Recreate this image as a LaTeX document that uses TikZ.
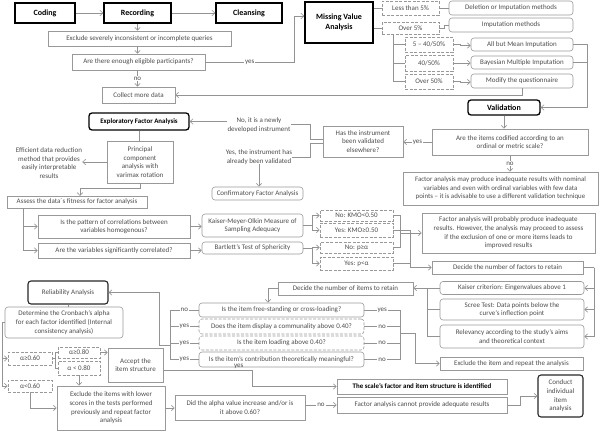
\documentclass[tikz,border=0pt]{standalone}
\usepackage{fontspec}
\setmainfont{Carlito}
\usetikzlibrary{arrows.meta}
\newcommand\mybox[7]{\node[#2,minimum width={#5-#3},minimum height={#6-#4}] (#1) at ({(#3+#5)/2},{(#4+#6)/2}) {#7};}
\begin{document}
\begin{tikzpicture}[x=1pt,y=-1pt,
  base/.style={inner sep=0pt, align=center, text=black!70, font=\fontsize{7}{8.6}\selectfont},
  gbox/.style={base, draw=gray!80, line width=0.6pt},
  rbox/.style={gbox, rounded corners=3pt},
  dbox/.style={gbox, dash pattern=on 3pt off 1.5pt},
  drbox/.style={dbox, rounded corners=3pt},
  kbox/.style={base, draw=black, line width=1.3pt, text=black, font=\bfseries\fontsize{8}{10}\selectfont},
  krbox/.style={kbox, rounded corners=3pt},
  relbox/.style={rbox, draw=black!85, line width=1.1pt},
  boldg/.style={gbox, text=black, font=\bfseries\fontsize{6.9}{8.5}\selectfont},
  lab/.style={base, fill=white, inner sep=1pt},
  txt/.style={base},
  ln/.style={draw=gray!85, line width=0.6pt},
  arr/.style={ln, -{Straight Barb[length=3pt,width=5.5pt]}},
]
\useasboundingbox (0,0) rectangle (600,431);
% top row
\mybox{coding}{kbox}{15}{3}{75}{23}{Coding}
\mybox{recording}{kbox}{104}{3}{171}{23}{Recording}
\mybox{cleansing}{kbox}{216}{3}{282}{23}{Cleansing}
\mybox{excl}{gbox}{48}{31}{231}{46}{Exclude severely inconsistent or incomplete queries}
\mybox{enough}{gbox}{72}{54}{205}{70}{Are there enough eligible participants?}
\mybox{collect}{gbox}{102}{87}{175}{103}{Collect more data}
\mybox{mva}{kbox}{305}{2}{373}{43}{Missing Value\\Analysis}
\mybox{lt5}{dbox}{382}{1}{439}{15}{Less than 5\%}
\mybox{ov5}{dbox}{382}{22}{439}{34}{Over 5\%}
\mybox{delimp}{rbox}{449}{1}{573}{15}{Deletion or Imputation methods}
\mybox{imp}{rbox}{449}{18}{573}{32}{Imputation methods}
\mybox{r1}{dbox}{405}{37}{453}{52}{5 – 40/50\%}
\mybox{r2}{dbox}{405}{55}{453}{71}{40/50\%}
\mybox{r3}{dbox}{405}{74}{453}{89}{Over 50\%}
\mybox{abmi}{rbox}{471}{38}{573}{51}{All but Mean Imputation}
\mybox{bmi}{rbox}{471}{56}{573}{69}{Bayesian Multiple Imputation}
\mybox{modq}{rbox}{471}{74}{573}{88}{Modify the questionnaire}
\mybox{valid}{krbox}{468}{100}{540}{115}{Validation}

\draw[arr] (coding) -- (recording);
\draw[arr] (recording) -- (cleansing);
\draw[arr] (recording.south) -- (recording.south |- excl.north);
\draw[arr] (excl.south -| recording.south) -- (recording.south |- enough.north);
\draw[arr] (enough.south -| recording.south) -- node[lab]{no} (recording.south |- collect.north);
\coordinate (c1) at (294,62);
\draw[arr] (enough.east) -- node[lab]{yes} (c1) |- ([yshift=6.5pt]mva.west);
\draw[ln] (mva.east |- lt5.west) -- (lt5.west);
\draw[ln] (mva.east |- ov5.west) -- (ov5.west);
\draw[ln] (lt5.east) -- (delimp.west);
\draw[ln] (ov5.east) -- ++(5,0) |- (imp.west);
\coordinate (v1) at (393,34);
\draw[ln] (v1) |- (r1.west);
\draw[ln] (v1) |- (r2.west);
\draw[ln] (v1) |- (r3.west);
\draw[arr] (r1.east) -- ++(7,0) |- ([yshift=-1pt]abmi.west);
\draw[arr] (r2.east) -- (r2.east -| bmi.west);
\draw[arr] (r3.east) -- ++(7,0) |- ([yshift=-1pt]modq.west);
\coordinate (v2) at (587,107.5);
\draw[ln] (abmi.east) -| (v2);
\draw[ln] (bmi.east) -| (v2);
\draw[arr] (v2) -- (valid.east);
\draw[arr] (modq.south) |- (collect.east);

% middle
\mybox{efa}{krbox, font=\bfseries\fontsize{6.9}{8}\selectfont}{89}{113}{189}{130}{Exploratory Factor Analysis}
\mybox{pca}{gbox}{107}{141}{173}{183}{Principal\\component\\analysis with\\varimax rotation}
\node[txt] (eff) at (49,163) {Efficient data reduction\\method that provides\\easily interpretable\\results};
\mybox{assess}{gbox}{7}{196}{147}{208}{Assess the data´s fitness for factor analysis}
\node[txt] (nolab) at (259,125) {No, it is a newly\\developed instrument};
\node[txt] (yeslab) at (259,157) {Yes, the instrument has\\already been validated};
\mybox{has}{gbox}{323}{126}{403}{157}{Has the instrument\\been validated\\elsewhere?}
\mybox{cfa}{rbox}{212}{187}{303}{200}{Confirmatory Factor Analysis}
\mybox{items}{gbox}{432}{129}{588}{155}{Are the items codified according to an\\ordinal or metric scale?}
\mybox{fa1}{gbox, font=\fontsize{6.9}{8.6}\selectfont}{403}{172}{598}{205}{Factor analysis may produce inadequate results with nominal\\variables and even with ordinal variables with few data\\points – it is advisable to use a different validation technique}

\draw[arr] (efa.east -| nolab.west) -- (efa.east);
\draw[ln] (efa.south) -- (efa.south |- pca.north);
\draw[arr] (pca.west) -- (pca.west -| eff.east);
\coordinate (c2) at (80,196);
\draw[arr] (pca.south) -- ++(0,5) -| (c2);
\coordinate (b1) at (310,124);
\coordinate (b2) at (310,157);
\draw[ln] (nolab.east |- b1) -- (b1) |- ([yshift=2pt]has.west);
\draw[ln] (yeslab.east) -- (b2) |- ([yshift=-2pt]has.west);
\draw[arr] (yeslab.south) -- (yeslab.south |- cfa.north);
\draw[arr] (valid.south) -- (valid.south |- items.north);
\draw[arr] (items.west) -- node[lab]{yes} (items.west -| has.east);
\draw[arr] (items.south) -- node[lab]{no} (items.south |- fa1.north);

% factor analysis checks
\mybox{pattern}{gbox}{38}{215}{190}{238}{Is the pattern of correlations between\\variables homogenous?}
\mybox{corr}{gbox}{38}{243}{190}{258}{Are the variables significantly correlated?}
\mybox{kmo}{rbox}{202}{214}{303}{237}{Kaiser-Meyer-Olkin Measure of\\Sampling Adequacy}
\mybox{bart}{rbox}{202}{242}{303}{254}{Bartlett's Test of Sphericity}
\mybox{kmoNo}{dbox}{320}{210}{393}{221}{No: KMO<0.50}
\mybox{kmoYes}{dbox}{320}{223}{393}{237}{Yes: KMO≥0.50}
\mybox{bNo}{dbox}{320}{242}{393}{253}{No: p≥α}
\mybox{bYes}{dbox}{320}{257}{393}{270}{Yes: p<α}
\mybox{fa2}{gbox}{422}{213}{595}{253}{Factor analysis will probably produce inadequate\\results. However, the analysis may proceed to assess\\if  the exclusion of one or more items  leads to\\improved results}
\mybox{dfac}{gbox}{432}{261}{583}{274}{Decide the number of factors to retain}

\coordinate (a1) at (23,208);
\draw[arr] (a1) |- (pattern.west);
\draw[arr] (a1) |- (corr.west);
\draw[arr] (pattern.east) -- (pattern.east -| kmo.west);
\draw[arr] (corr.east) -- (corr.east -| bart.west);
\coordinate (k1) at (312,225.5);
\coordinate (k2) at (312,248);
\draw[ln] (kmo.east) -- (k1);
\draw[arr] (k1) |- (kmoNo.west);
\draw[arr] (k1) |- (kmoYes.west);
\draw[ln] (bart.east) -- (k2);
\draw[arr] (k2) |- (bNo.west);
\draw[arr] (k2) |- (bYes.west);
\coordinate (j1) at (400,233);
\draw[ln] (kmoNo.east) -| (j1);
\draw[ln] (bNo.east) -| (j1);
\draw[arr] (j1) -- (fa2.west);
\coordinate (j2) at (410,267.5);
\draw[ln] (kmoYes.east) -| (j2);
\draw[ln] (bYes.east) -| (j2);
\draw[arr] (j2) -- (dfac.west);

% number of factors / items
\mybox{kaiser}{rbox}{440}{281.5}{584}{294.5}{Kaiser criterion: Eingenvalues above 1}
\mybox{scree}{rbox}{440}{299}{584}{320}{Scree Test: Data points below the\\curve's inflection point}
\mybox{relev}{rbox}{440}{325}{584}{348}{Relevancy according to the study's aims\\and theoretical context}
\mybox{ditems}{gbox}{278}{282}{413}{295}{Decide the number of items to retain}
\coordinate (j4) at (594,267.5);
\draw[ln] (dfac.east) -- (j4);
\draw[arr] (j4) |- (kaiser.east);
\draw[arr] (j4) |- (scree.east);
\draw[arr] (j4) |- (relev.east);
\coordinate (j3) at (427,288);
\draw[ln] (scree.west) -| (j3);
\draw[ln] (relev.west) -| (j3);
\draw[arr] (kaiser.west) -- (kaiser.west -| ditems.east);

\mybox{q1}{rbox}{199}{303}{364}{317}{Is the item free-standing or cross-loading?}
\mybox{q2}{drbox}{199}{319}{364}{334}{Does the item display a communality above 0.40?}
\mybox{q3}{drbox}{199}{336}{364}{350}{Is the item loading above 0.40?}
\mybox{q4}{rbox}{199}{352}{364}{367}{Is the item's contribution theoretically meaningful?}
\mybox{exitem}{gbox}{440}{357}{583}{370}{Exclude the item and repeat the analysis}
\coordinate (d1) at (268,288.5);
\draw[arr] (ditems.west) -- (d1) -- (d1 |- q1.north);
\coordinate (rj) at (400,333);
\coordinate (rj2) at (415,333);
\draw[ln] (q1.east) -- node[lab]{yes} (q1.east -| rj) -- (q4.east -| rj);
\draw[ln] (q2.east) -- node[lab]{no} (q2.east -| rj);
\draw[ln] (q3.east) -- node[lab]{no} (q3.east -| rj);
\draw[ln] (q4.east) -- node[lab]{no} (q4.east -| rj);
\draw[arr] (rj) -- (rj2) |- (exitem.west);
\coordinate (lj) at (170,345);
\coordinate (lj2) at (159,345);
\draw[ln] (q1.west) -- node[lab]{no} (q1.west -| lj) -- (q4.west -| lj);
\draw[ln] (q2.west) -- node[lab]{yes} (q2.west -| lj);
\draw[ln] (q3.west) -- node[lab]{yes} (q3.west -| lj);
\draw[ln] (q4.west) -- node[lab]{yes} (q4.west -| lj);

% reliability
\mybox{reliab}{relbox}{28}{281}{108}{304}{Reliability Analysis}
\mybox{cron}{rbox}{5}{307}{123}{338}{Determine the Cronbach's alpha\\for each factor identified (Internal\\consistency analysis)}
\mybox{a60}{dbox}{8}{352}{52}{365}{α≥0.60}
\mybox{al60}{dbox}{8}{380}{52}{392}{α<0.60}
\mybox{a80}{dbox}{58}{347}{100}{358}{α≥0.80}
\mybox{al80}{dbox}{58}{361}{100}{375}{α < 0.80}
\mybox{accept}{gbox}{108}{348}{163}{382}{Accept the\\item structure}
\mybox{exgr}{gbox}{57}{386}{165}{430}{Exclude the items with lower\\scores in the tests performed\\previously and repeat factor\\analysis}
\mybox{alpha}{gbox}{175}{395}{305}{420}{Did the alpha value increase and/or is\\it above 0.60?}
\mybox{scale}{boldg}{337}{379}{507}{394}{The scale's factor and item structure is identified}
\mybox{fcan}{gbox}{337}{397}{507}{413}{Factor analysis cannot provide adequate results}
\mybox{conduct}{relbox}{538}{375}{583}{417}{Conduct\\individual\\item\\analysis}

\draw[arr] (lj) -- (lj2) |- (reliab.east);
\draw[ln] (reliab.south) -- (reliab.south |- cron.north);
\coordinate (cl) at (2,322.5);
\draw[ln] (cron.west) -- (cl);
\draw[arr] (cl) |- (a60.west);
\draw[arr] (cl) |- (al60.west);
\coordinate (aj) at (55,358.5);
\draw[ln] (a60.east) -- (aj);
\draw[ln] (aj) |- (a80.west);
\draw[ln] (aj) |- (al80.west);
\draw[arr] (a80.east) -- (a80.east -| accept.west);
\draw[arr] (al80.south) -- (al80.south |- exgr.north);
\draw[arr] (al60.south) -- (al60.south |- exgr.west) -- (exgr.west);
\draw[arr] (exgr.east) -- (exgr.east -| alpha.west);
\draw[arr] (alpha.east |- fcan.west) -- node[lab]{no} (fcan.west);
\coordinate (f1) at (520,405);
\draw[arr] (fcan.east) -- (f1) |- (conduct.west);
\coordinate (y1) at (252,370);
\draw[arr] (accept.east |- y1) -- node[base, above, pos=0.85, inner sep=1.5pt]{yes} (y1) |- (scale.west);
\end{tikzpicture}
\end{document}
